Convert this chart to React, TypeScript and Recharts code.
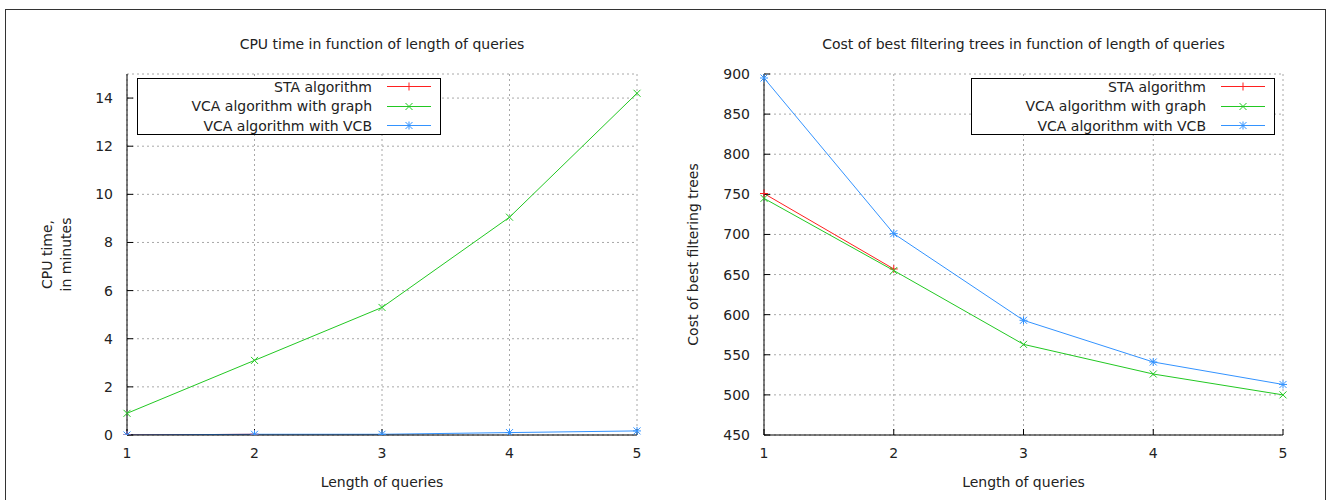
import React from "react";
import {
  LineChart,
  Line,
  XAxis,
  YAxis,
  CartesianGrid,
  Legend,
} from "recharts";

const lengths = [1, 2, 3, 4, 5];

// CPU time (minutes); STA only measured for the short queries
const cpuSta = [0, 0.03, null, null, null];
const cpuGraph = [0.9, 3.1, 5.3, 9.05, 14.2];
const cpuVcb = [0, 0.03, 0.03, 0.1, 0.17];
const cpuTicks = [0, 2, 4, 6, 8, 10, 12, 14];

// cost of best filtering trees
const costSta = [751, 657, null, null, null];
const costGraph = [745, 655, 563, 526, 500];
const costVcb = [895, 701, 593, 541, 513];
const costTicks = [450, 500, 550, 600, 650, 700, 750, 800, 850, 900];

const seriesNames = [
  "STA algorithm",
  "VCA algorithm with graph",
  "VCA algorithm with VCB",
];

const FONT = "'DejaVu Sans', sans-serif";
const TEXT = "#222";
const RED = "#ff2020";
const GREEN = "#22c822";
const BLUE = "#3393ff";

type Shape = "plus" | "cross" | "star";

const series: { key: string; color: string; shape: Shape }[] = [
  { key: "sta", color: RED, shape: "plus" },
  { key: "graph", color: GREEN, shape: "cross" },
  { key: "vcb", color: BLUE, shape: "star" },
];

function Marker({ cx, cy, shape, color }: { cx: number; cy: number; shape: Shape; color: string }) {
  const r = 4;
  const d = 3.5;
  return (
    <g stroke={color} strokeWidth={1} fill="none">
      {(shape === "plus" || shape === "star") && (
        <>
          <line x1={cx - r} y1={cy} x2={cx + r} y2={cy} />
          <line x1={cx} y1={cy - r} x2={cx} y2={cy + r} />
        </>
      )}
      {(shape === "cross" || shape === "star") && (
        <>
          <line x1={cx - d} y1={cy - d} x2={cx + d} y2={cy + d} />
          <line x1={cx - d} y1={cy + d} x2={cx + d} y2={cy - d} />
        </>
      )}
    </g>
  );
}

const makeDot = (shape: Shape, color: string) => (p: any) =>
  p.cy == null || p.value == null ? (
    <g key={`${shape}-${p.index}`} />
  ) : (
    <Marker key={`${shape}-${p.index}`} cx={p.cx} cy={p.cy} shape={shape} color={color} />
  );

function KeyBox() {
  return (
    <div
      style={{
        width: 304,
        height: 57,
        boxSizing: "border-box",
        border: "1px solid #000",
        background: "#fff",
        fontFamily: FONT,
        fontSize: 14,
        color: TEXT,
      }}
    >
      <div style={{ marginTop: -2 }}>
        {series.map((s, i) => (
          <div key={s.key} style={{ display: "flex", height: 19.5, alignItems: "center" }}>
            <span style={{ width: 234, textAlign: "right", whiteSpace: "nowrap" }}>
              {seriesNames[i]}
            </span>
            <svg width={44} height={19} style={{ marginLeft: 15 }}>
              <line x1={0} y1={9.5} x2={44} y2={9.5} stroke={s.color} strokeWidth={1} />
              <Marker cx={22} cy={9.5} shape={s.shape} color={s.color} />
            </svg>
          </div>
        ))}
      </div>
    </div>
  );
}

function PanelChart({
  rows,
  yDomain,
  yTicks,
  yAxisWidth,
  plotWidth,
  yLines,
  yLineX,
  legendLeft,
}: {
  rows: any[];
  yDomain: [number, number];
  yTicks: number[];
  yAxisWidth: number;
  plotWidth: number;
  yLines: string[];
  yLineX: number[];
  legendLeft: number;
}) {
  const tickStyle = { fontFamily: FONT, fontSize: 14, fill: TEXT };
  return (
    <LineChart
      width={666}
      height={500}
      data={rows}
      margin={{ top: 74, right: 666 - yAxisWidth - plotWidth, bottom: 0, left: 0 }}
      style={{ fontFamily: FONT }}
    >
      <CartesianGrid stroke="#a8a8a8" strokeDasharray="2 3" />
      <XAxis
        dataKey="len"
        type="number"
        domain={[1, 5]}
        ticks={lengths}
        height={65}
        tickSize={-6}
        tickMargin={19}
        stroke="#000"
        tick={tickStyle}
        label={(p: any) => {
          const vb = p.viewBox;
          return (
            <text
              x={vb.x + vb.width / 2}
              y={482}
              textAnchor="middle"
              dominantBaseline="central"
              fontFamily={FONT}
              fontSize={14}
              fill={TEXT}
            >
              Length of queries
            </text>
          );
        }}
      />
      <XAxis
        xAxisId="top"
        orientation="top"
        dataKey="len"
        type="number"
        domain={[1, 5]}
        ticks={lengths}
        height={0}
        tickSize={-6}
        tickFormatter={() => ""}
        stroke="#000"
      />
      <YAxis
        type="number"
        domain={yDomain}
        ticks={yTicks}
        width={yAxisWidth}
        tickSize={-6}
        tickMargin={20}
        stroke="#000"
        tick={tickStyle}
        allowDataOverflow
        label={(p: any) => {
          const vb = p.viewBox;
          const cy = vb.y + vb.height / 2;
          return (
            <g>
              {yLines.map((t, i) => (
                <text
                  key={t}
                  x={yLineX[i]}
                  y={cy}
                  transform={`rotate(-90, ${yLineX[i]}, ${cy})`}
                  textAnchor="middle"
                  dominantBaseline="central"
                  fontFamily={FONT}
                  fontSize={14}
                  fill={TEXT}
                >
                  {t}
                </text>
              ))}
            </g>
          );
        }}
      />
      <YAxis
        yAxisId="right"
        orientation="right"
        type="number"
        domain={yDomain}
        ticks={yTicks}
        width={0}
        tickSize={-6}
        tickFormatter={() => ""}
        stroke="#000"
        allowDataOverflow
      />
      <Legend
        layout="vertical"
        align="center"
        verticalAlign="middle"
        content={() => <KeyBox />}
        wrapperStyle={{ left: legendLeft, top: 78, width: 304, height: 57 }}
      />
      {series.map((s, i) => (
        <Line
          key={s.key}
          dataKey={s.key}
          name={seriesNames[i]}
          stroke={s.color}
          strokeWidth={1}
          type="linear"
          dot={makeDot(s.shape, s.color)}
          activeDot={false}
          isAnimationActive={false}
        />
      ))}
    </LineChart>
  );
}

const cpuRows = lengths.map((len, i) => ({
  len,
  sta: cpuSta[i],
  graph: cpuGraph[i],
  vcb: cpuVcb[i],
}));

const costRows = lengths.map((len, i) => ({
  len,
  sta: costSta[i],
  graph: costGraph[i],
  vcb: costVcb[i],
}));

const titleStyle: React.CSSProperties = {
  position: "absolute",
  top: 36,
  textAlign: "center",
  fontFamily: FONT,
  fontSize: 14,
  color: TEXT,
  whiteSpace: "nowrap",
};

export default function App() {
  return (
    <div
      style={{
        position: "absolute",
        left: 0,
        top: 0,
        width: 1333,
        height: 500,
        overflow: "hidden",
        background: "#fff",
      }}
    >
      <div
        style={{
          position: "absolute",
          left: 5,
          top: 9,
          width: 1321,
          height: 520,
          border: "1px solid #333",
          boxSizing: "border-box",
        }}
      />
      <div style={{ ...titleStyle, left: 127, width: 510 }}>
        CPU time in function of length of queries
      </div>
      <div style={{ ...titleStyle, left: 764, width: 519 }}>
        Cost of best filtering trees in function of length of queries
      </div>
      <div style={{ position: "absolute", left: 0, top: 0 }}>
        <PanelChart
          rows={cpuRows}
          yDomain={[0, 15]}
          yTicks={cpuTicks}
          yAxisWidth={127}
          plotWidth={510}
          yLines={["CPU time,", "in minutes"]}
          yLineX={[47, 66]}
          legendLeft={137}
        />
      </div>
      <div style={{ position: "absolute", left: 666, top: 0 }}>
        <PanelChart
          rows={costRows}
          yDomain={[450, 900]}
          yTicks={costTicks}
          yAxisWidth={98}
          plotWidth={519}
          yLines={["Cost of best filtering trees"]}
          yLineX={[27]}
          legendLeft={305}
        />
      </div>
    </div>
  );
}
